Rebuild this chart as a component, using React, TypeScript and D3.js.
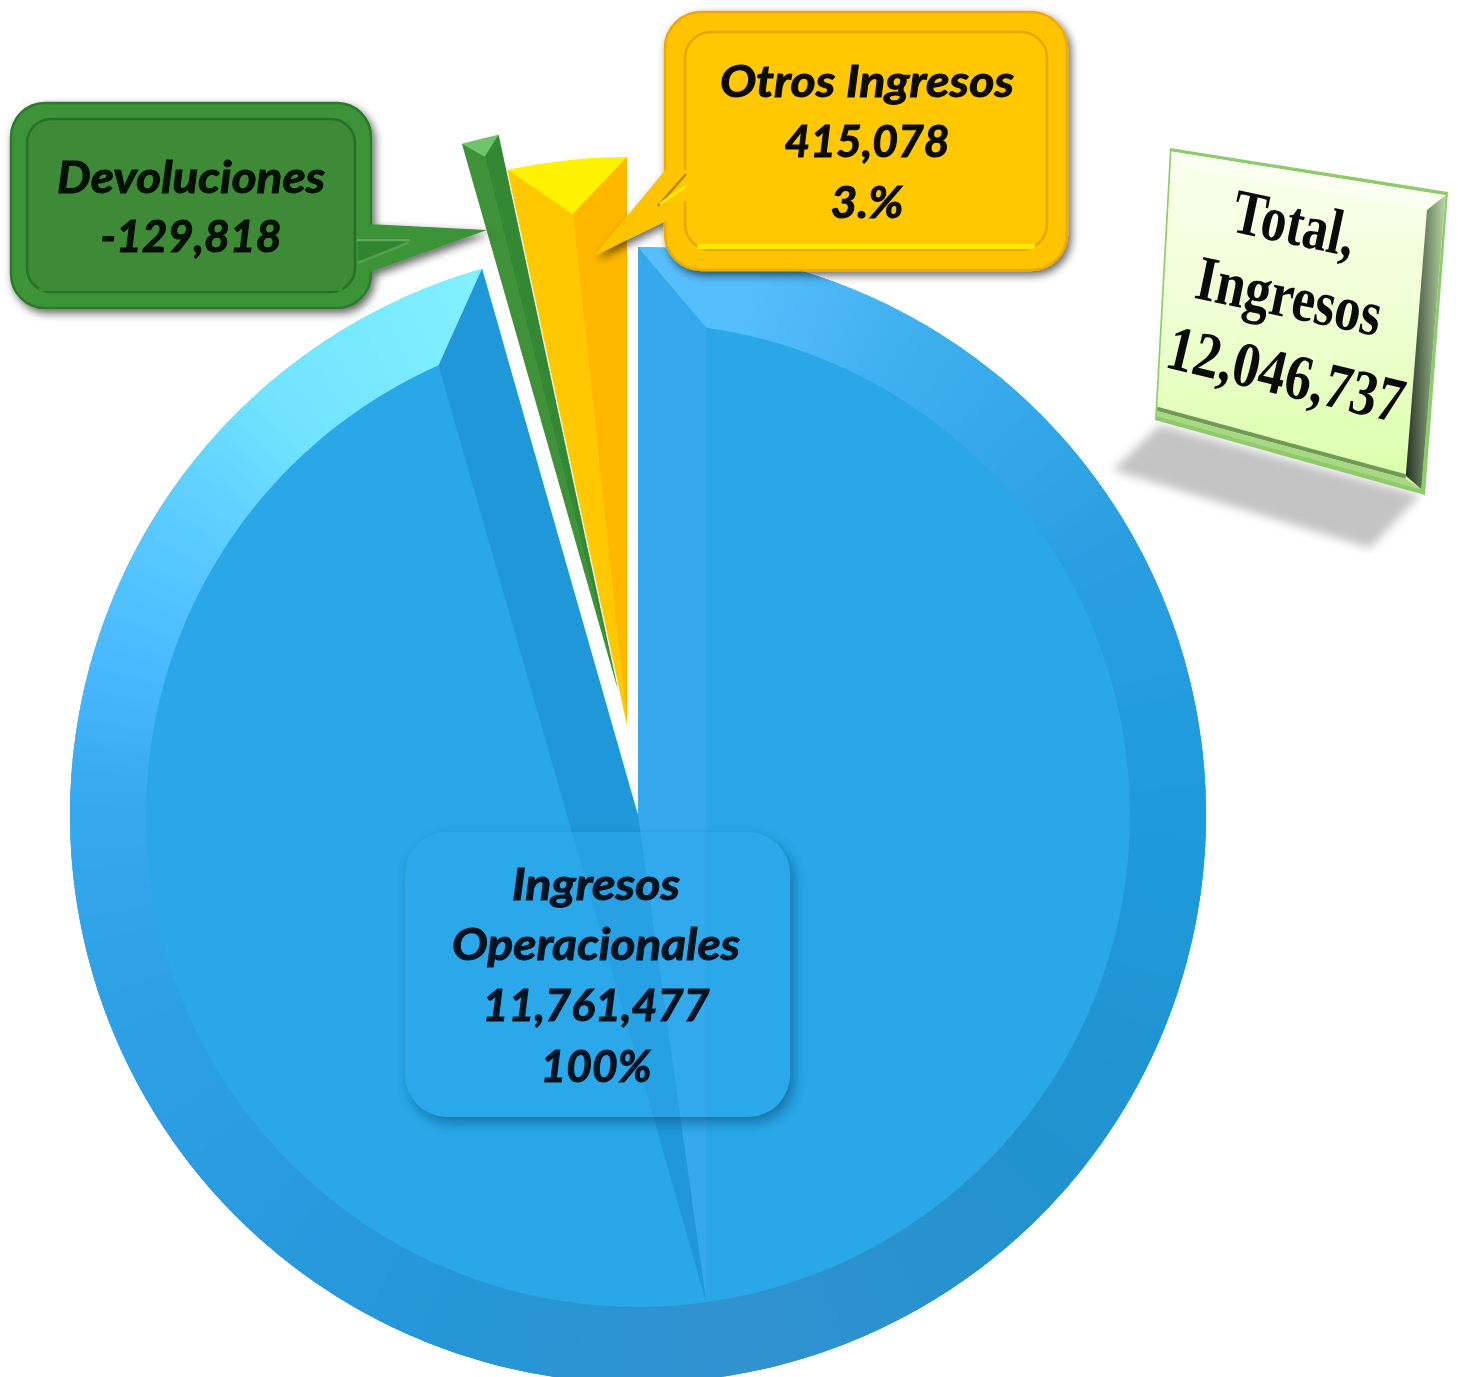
import React from "react";
import * as d3 from "d3";

// ---- data ----
const categories = ["Ingresos Operacionales", "Devoluciones", "Otros Ingresos"];
const values = [11761477, -129818, 415078];
const mainLabel = ["Ingresos", "Operacionales", "11,761,477", "100%"];
const devolLabel = ["Devoluciones", "-129,818"];
const otrosLabel = ["Otros Ingresos", "415,078", "3.%"];
const totalLabel = ["Total,", "Ingresos", "12,046,737"];

// ---- layout ----
const W = 1458, H = 1377;
const cx = 638, cy = 815, R = 568, rIn = 492;
const DEG = Math.PI / 180;
const ringStops = [0, 12, 30, 60, 90, 130, 170, 200, 250, 272, 290, 305, 318, 344];
const ringColors = ["#56BFFB", "#55BEFC", "#3FAFEF", "#2A9FE0", "#1F9ADB", "#2192CE", "#3192CF", "#2596D6", "#2EA0E6", "#36AAEE", "#4DBDFF", "#5ECFFF", "#70E3FF", "#82F1FF"];
const ringColor = d3.scaleLinear<string>().domain(ringStops).range(ringColors).interpolate(d3.interpolateRgb);

const pie = d3.pie<number>().sort(null).value((d) => Math.abs(d));
const slices = pie(values);
const arc = d3.arc();
const pol = (r: number, a: number): [number, number] => [r * Math.sin(a), -r * Math.cos(a)];
const poly = (pts: [number, number][]) => "M" + pts.map((p) => p.join(",")).join("L") + "Z";
const line = (pts: [number, number][]) => "M" + pts.map((p) => p.join(",")).join("L");

function Wedge({ s, ox, oy, top, left, right }: any) {
  const h = (s.endAngle - s.startAngle) / 2;
  const mid = s.startAngle + h;
  const q = pol(R / (1 + Math.sin(h)), mid);
  const L = pol(R, s.startAngle), Rr = pol(R, s.endAngle);
  return (
    <g transform={`translate(${cx + ox},${cy + oy})`}>
      <path d={arc({ innerRadius: 0, outerRadius: R, startAngle: s.startAngle, endAngle: s.endAngle } as any) as string} fill={top} />
      <path d={poly([[0, 0], L, q])} fill={left} />
      <path d={poly([[0, 0], Rr, q])} fill={right} />
    </g>
  );
}

function MainSlice() {
  const s = slices[0];
  const half = (s.endAngle - s.startAngle) / 2;
  const inset = (360 * DEG - (s.endAngle - s.startAngle)) / 2;
  const a0 = s.startAngle + inset, a1 = s.endAngle - inset;
  const T = pol(rIn, s.startAngle + half);
  const endDeg = s.endAngle / DEG;
  const degs = d3.range(0, endDeg, 0.5);
  return (
    <g transform={`translate(${cx},${cy})`}>
      {degs.map((d) => (
        <path key={d} d={arc({ innerRadius: rIn - 2, outerRadius: R, startAngle: d * DEG, endAngle: Math.min(d + 1.2, endDeg) * DEG } as any) as string}
          fill={ringColor(d + 0.25)} />
      ))}
      <path d={arc({ innerRadius: 0, outerRadius: rIn, startAngle: a0, endAngle: a1 } as any) as string} fill="#29A7E6" />
      <path d={poly([[0, 0], pol(R, s.startAngle), pol(rIn, a0), T])} fill="#36A8EC" />
      <path d={poly([[0, 0], pol(R, s.endAngle), pol(rIn, a1), T])} fill="#1F97D8" />
    </g>
  );
}

function Lines({ lines, x, ys, widths, fill }: any) {
  return (
    <g>
      {lines.map((t: string, i: number) => (
        <text key={t} x={x} y={ys[i]} textLength={widths[i]} lengthAdjust="spacingAndGlyphs" textAnchor="middle" fill={fill}
          stroke={fill} strokeWidth={1}
          style={{ fontFamily: "Lato, 'Open Sans', sans-serif", fontWeight: 700, fontStyle: "italic", fontSize: 44 }}>{t}</text>
      ))}
    </g>
  );
}

function lerpQuad(u: number, v: number): [number, number] {
  const TL = [1170, 148], TR = [1448, 192], BR = [1425, 495], BL = [1155, 420];
  const top = [TL[0] + (TR[0] - TL[0]) * u, TL[1] + (TR[1] - TL[1]) * u];
  const bot = [BL[0] + (BR[0] - BL[0]) * u, BL[1] + (BR[1] - BL[1]) * u];
  return [top[0] + (bot[0] - top[0]) * v, top[1] + (bot[1] - top[1]) * v];
}

function TotalBox() {
  const q = (a: [number, number][]) => poly(a.map(([u, v]) => lerpQuad(u, v)));
  const lines = [
    { x: 1290, y: 244, r: 12, w: 124 },
    { x: 1285, y: 317, r: 11.8, w: 188 },
    { x: 1281, y: 395, r: 13.5, w: 242 },
  ];
  return (
    <g>
      <path d="M1113,470L1160,425L1420,495L1370,548Z" fill="#C4C4C4" filter="url(#blur8)" />
      <path d={q([[0, 0], [1, 0], [1, 1], [0, 1]])} fill="#8ECB6A" />
      <path d={q([[0.006, 0.012], [0.992, 0.012], [0.985, 0.985], [0.006, 0.975]])} fill="url(#totalFace)" />
      <path d={q([[0.006, 0.012], [0.992, 0.012], [0.93, 0.07], [0.006, 0.06]])} fill="#FBFFF2" />
      <path d={q([[0.93, 0.07], [0.992, 0.012], [0.985, 0.985], [0.925, 0.955]])} fill="url(#totalSide)" />
      <path d={q([[0.006, 0.95], [0.925, 0.95], [0.925, 0.965], [0.006, 0.965]])} fill="#6F9A58" />
      <path d={q([[0.006, 0.965], [0.925, 0.965], [0.985, 0.985], [0.006, 0.985]])} fill="#A8D884" />
      {totalLabel.map((t, i) => (
        <text key={t} transform={`translate(${lines[i].x},${lines[i].y}) rotate(${lines[i].r})`} textAnchor="middle"
          textLength={lines[i].w} lengthAdjust="spacingAndGlyphs"
          style={{ fontFamily: "'Liberation Serif', serif", fontWeight: 700, fontSize: 64 }} fill="#0A0A0A">{t}</text>
      ))}
    </g>
  );
}

function Callout({ x, y, w, h, r, inset, ptr, outer, edge, face, rim, innerEdge, children }: any) {
  const outline = d3.path();
  outline.moveTo(x + r, y); outline.lineTo(x + w - r, y);
  outline.arcTo(x + w, y, x + w, y + r, r); outline.lineTo(x + w, y + h - r);
  outline.arcTo(x + w, y + h, x + w - r, y + h, r); outline.lineTo(x + r, y + h);
  outline.arcTo(x, y + h, x, y + h - r, r); outline.lineTo(x, y + r);
  outline.arcTo(x, y, x + r, y, r); outline.closePath();
  return (
    <g>
      <g filter="url(#shadow)">
        <path d={outline.toString()} fill={outer} stroke={edge} strokeWidth={2.5} />
        <path d={poly(ptr)} fill={outer} />
      </g>
      <rect x={x + inset} y={y + inset} width={w - 2 * inset} height={h - 2 * inset} rx={r - 10} fill={face} stroke={innerEdge} strokeWidth={2.5} />
      <rect x={x + inset + 12} y={y + h - inset - 6} width={w - 2 * inset - 24} height={5} rx={2.5} fill={rim} />
      {children}
    </g>
  );
}

export default function App() {
  const boxClip = { x: 405, y: 832, width: 385, height: 285, rx: 42 };
  return (
    <svg width={W} height={H} viewBox={`0 0 ${W} ${H}`} style={{ position: "absolute", left: 0, top: 0, background: "#fff", filter: "blur(0.6px)" }}>
      <defs>
        <filter id="blur8" x="-20%" y="-20%" width="140%" height="140%"><feGaussianBlur stdDeviation="5" /></filter>
        <filter id="boxBlur" x="-10%" y="-10%" width="120%" height="120%"><feGaussianBlur stdDeviation="6" /></filter>
        <filter id="shadow" x="-10%" y="-10%" width="120%" height="125%"><feDropShadow dx="3" dy="4" stdDeviation="4" floodColor="#000" floodOpacity="0.6" /></filter>
        <linearGradient id="totalFace" x1="0" y1="0" x2="0" y2="1">
          <stop offset="0" stopColor="#FBFFEE" /><stop offset="0.5" stopColor="#EEFFD2" /><stop offset="1" stopColor="#DAFFA8" />
        </linearGradient>
        <linearGradient id="totalSide" x1="0" y1="0" x2="1" y2="0">
          <stop offset="0" stopColor="#243024" /><stop offset="1" stopColor="#B8D8A4" />
        </linearGradient>
        <mask id="outsideBox">
          <rect width={W} height={H} fill="#fff" />
          <rect {...boxClip} fill="#000" />
        </mask>
      </defs>

      <MainSlice />
      <g mask="url(#outsideBox)">
        <rect x={boxClip.x + 4} y={boxClip.y + 6} width={boxClip.width} height={boxClip.height} rx={42} fill="#0E5E92" opacity={0.7} filter="url(#boxBlur)" />
      </g>
      <rect {...boxClip} fill="#2DA9EC" fillOpacity={0.55} />

      <Wedge s={slices[1]} ox={-20} oy={-125} top="#6FC46C" left="#3F9239" right="#348733" />
      <Wedge s={slices[2]} ox={-11} oy={-90} top="#FFF200" left="#FFC800" right="#FFB700" />

      <Callout x={11} y={103} w={360} h={205} r={34} inset={16}
        ptr={[[368, 224], [487, 230], [368, 273]]}
        outer="#3E9438" edge="#2C7A2B" face="#3E8A37" rim="#3E8A37" innerEdge="#27702A">
        <path d={poly([[358, 238], [412, 238], [364, 262], [358, 262]])} fill="#2F842E" />
        <path d={line([[357, 240], [410, 240]])} stroke="#62A85C" strokeWidth={2.5} fill="none" />
        <path d={line([[358, 263], [408, 243]])} stroke="#55A050" strokeWidth={2.5} fill="none" />
      </Callout>
      <Callout x={665} y={12} w={402} h={258} r={36} inset={20}
        ptr={[[672, 162], [594, 256], [672, 218]]}
        outer="#FFC400" edge="#EFA900" face="#FFC800" rim="#FFEB00" innerEdge="#E6A600">
        <path d={poly([[680, 170], [670, 205], [690, 200], [690, 170]])} fill="#FFC800" />
        <path d={line([[686, 174], [658, 206]])} stroke="#B8860B" strokeWidth={2.5} fill="none" />
        <path d={line([[686, 186], [660, 204]])} stroke="#FFF000" strokeWidth={2.5} fill="none" />
      </Callout>

      <Lines lines={otrosLabel} x={867} ys={[97, 157, 218]} widths={[294, 165, 73]} fill="#0B0B00" />
      <Lines lines={devolLabel} x={191} ys={[193, 252]} widths={[268, 181]} fill="#031003" />
      <Lines lines={mainLabel} x={596} ys={[900, 960, 1021, 1082]} widths={[168, 288, 227, 111]} fill="#03131F" />

      <TotalBox />
      <title>{categories.join(", ")}</title>
    </svg>
  );
}
